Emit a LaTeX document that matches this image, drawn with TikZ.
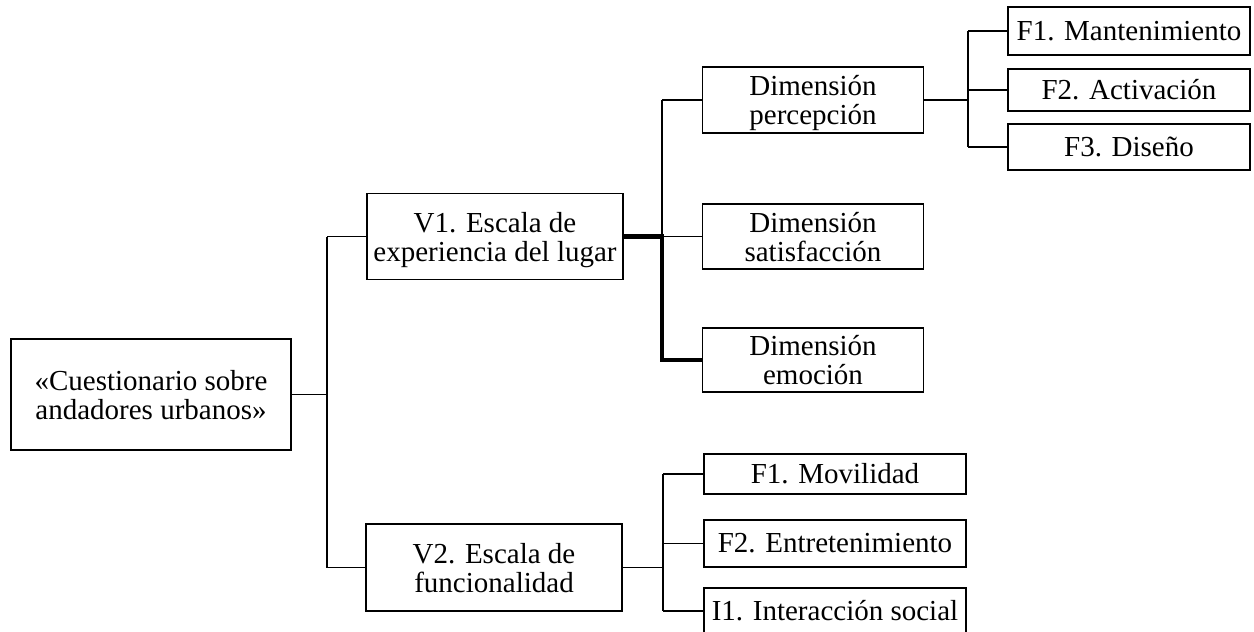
\documentclass[tikz,border=0pt]{standalone}
\usepackage{fontspec}
\setmainfont{Liberation Serif}
\begin{document}
\begin{tikzpicture}[x=1pt,y=-1pt,
  box/.style={draw, line width=1.2pt, inner sep=0pt, align=center, font=\fontsize{29}{29}\selectfont},
  twoline/.style={text depth=0pt},
  conn/.style={line width=1.5pt},
  thickconn/.style={line width=4.2pt, line join=miter}]
\useasboundingbox (0,0) rectangle (1254,632);
% nodes
\node[box, twoline, minimum width=280pt, minimum height=111pt] (root) at (151,394.5) {«Cuestionario sobre\\andadores urbanos»};
\node[box, twoline, minimum width=256pt, minimum height=86pt] (v1) at (495,236.5) {V1. Escala de\\experiencia del lugar};
\node[box, twoline, minimum width=256pt, minimum height=87pt] (v2) at (494,567.5) {V2. Escala de\\funcionalidad};
\node[box, twoline, minimum width=221pt, minimum height=66pt] (perc) at (813,100) {Dimensión\\percepción};
\node[box, twoline, minimum width=221pt, minimum height=65pt] (sat) at (813,236.5) {Dimensión\\satisfacción};
\node[box, twoline, minimum width=221pt, minimum height=64pt] (emo) at (813,360) {Dimensión\\emoción};
\node[box, minimum width=242pt, minimum height=48pt] (mant) at (1129,31) {F1. Mantenimiento};
\node[box, minimum width=242pt, minimum height=42pt] (act) at (1129,90) {F2. Activación};
\node[box, minimum width=242pt, minimum height=46pt] (dis) at (1129,147) {F3. Diseño};
\node[box, minimum width=262pt, minimum height=40pt] (mov) at (835,474) {F1. Movilidad};
\node[box, minimum width=262pt, minimum height=47pt] (ent) at (835,543.5) {F2. Entretenimiento};
\node[box, minimum width=262pt, minimum height=46pt] (soc) at (835,611) {I1. Interacción social};
% junction columns
\coordinate (x0) at (327,0);
\coordinate (x1) at (662,0);
\coordinate (x2) at (968,0);
\coordinate (x3) at (663,0);
% root -> V1, V2
\draw[conn] (root.east) -- (root.east -| x0);
\draw[conn] (v1.west -| x0) -- (v2.west -| x0);
\draw[conn] (v1.west -| x0) -- (v1.west);
\draw[conn] (v2.west -| x0) -- (v2.west);
% V1 -> dimensions
\draw[conn] (perc.west -| x1) -- (v1.east -| x1);
\draw[conn] (perc.west -| x1) -- (perc.west);
\draw[conn] (v1.east -| x1) -- (sat.west);
\draw[thickconn] (v1.east) -- (v1.east -| x1) -- (emo.west -| x1) -- (emo.west);
% percepcion -> factors
\draw[conn] (perc.east) -- (perc.east -| x2);
\draw[conn] (mant.west -| x2) -- (dis.west -| x2);
\draw[conn] (mant.west -| x2) -- (mant.west);
\draw[conn] (act.west -| x2) -- (act.west);
\draw[conn] (dis.west -| x2) -- (dis.west);
% V2 -> factors
\draw[conn] (v2.east) -- (v2.east -| x3);
\draw[conn] (mov.west -| x3) -- (soc.west -| x3);
\draw[conn] (mov.west -| x3) -- (mov.west);
\draw[conn] (ent.west -| x3) -- (ent.west);
\draw[conn] (soc.west -| x3) -- (soc.west);
\end{tikzpicture}
\end{document}
